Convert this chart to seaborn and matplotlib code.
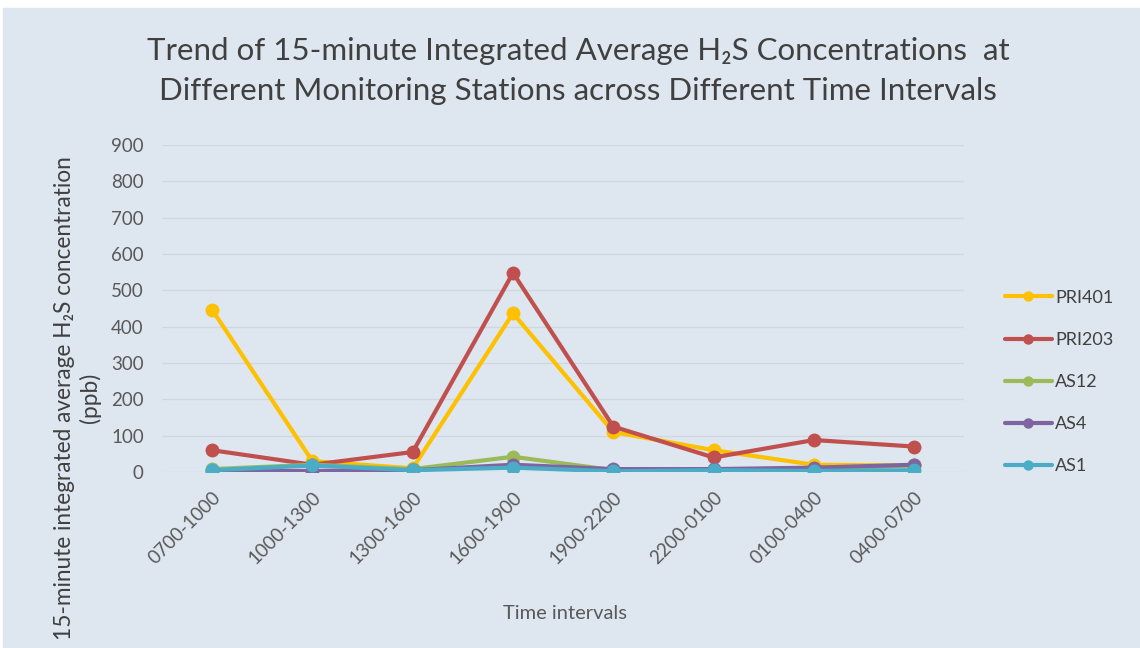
import pandas as pd
import matplotlib.pyplot as plt
import matplotlib.patches as mpatches
import seaborn as sns

intervals = ['0700-1000', '1000-1300', '1300-1600', '1600-1900',
             '1900-2200', '2200-0100', '0100-0400', '0400-0700']
pri401 = [447, 30, 10, 437, 110, 60, 20, 18]
pri203 = [60, 20, 55, 548, 125, 40, 88, 70]
as12 = [8, 20, 8, 42, 5, 5, 8, 18]
as4 = [2, 3, 5, 20, 8, 8, 12, 20]
as1 = [5, 18, 5, 12, 2, 5, 3, 5]
stations = ['PRI401', 'PRI203', 'AS12', 'AS4', 'AS1']
colors = ['#FFC000', '#C0504D', '#9BBB59', '#8064A2', '#4BACC6']

rows = []
for name, vals in zip(stations, [pri401, pri203, as12, as4, as1]):
    for t, v in zip(intervals, vals):
        rows.append({'interval': t, 'value': v, 'station': name})
df = pd.DataFrame(rows)

bg = '#DEE6F0'
sns.set_style('white')
plt.rcParams['font.family'] = ['Lato', 'DejaVu Sans']

fig = plt.figure(figsize=(11.4, 6.48), dpi=100, facecolor='white')
fig.patches.append(mpatches.Rectangle((3 / 1140, 0), 1, 1 - 8 / 648,
                                      transform=fig.transFigure, color=bg, zorder=-1))
ax = fig.add_axes([0.142, 0.2716, 0.704, 0.5046])
ax.set_facecolor(bg)

sns.lineplot(data=df, x='interval', y='value', hue='station', palette=colors,
             marker='o', markersize=10, markeredgewidth=0, linewidth=3,
             sort=False, ax=ax)

ax.set_ylim(0, 900)
ax.set_xlim(-0.5, 7.5)
ax.set_yticks(range(0, 901, 100))
ax.grid(axis='y', color='#CFD7E1', linewidth=1)
ax.set_axisbelow(True)
for s in ax.spines.values():
    s.set_visible(False)
ax.tick_params(axis='both', length=0, colors='#595959', labelsize=13.5)
ax.tick_params(axis='y', pad=13)
ax.tick_params(axis='x', pad=12)
plt.setp(ax.get_xticklabels(), rotation=45, ha='right', rotation_mode='anchor')

ax.set_xlabel('Time intervals', fontsize=14.5, color='#595959')
ax.xaxis.set_label_coords((565 - 162) / 803, (472 - 605) / 327)
ax.set_ylabel('15-minute integrated average H₂S concentration\n(ppb)',
              fontsize=16.3, color='#404040', va='center', linespacing=1.2)
ax.yaxis.set_label_coords(-0.105, 0.226)

fig.text(0.507, 0.8897, 'Trend of 15-minute Integrated Average H₂S Concentrations  at\n'
         'Different Monitoring Stations across Different Time Intervals',
         ha='center', va='center', fontsize=22.5, color='#404040', linespacing=1.52)

leg = ax.legend(loc='center left', bbox_to_anchor=(1.03, 0.275), frameon=False,
                fontsize=13, labelspacing=1.45, handlelength=2.6, handletextpad=0.2,
                markerscale=0.75)
for txt in leg.get_texts():
    txt.set_color('#404040')

fig.savefig('out.png', dpi=100, facecolor=fig.get_facecolor())
